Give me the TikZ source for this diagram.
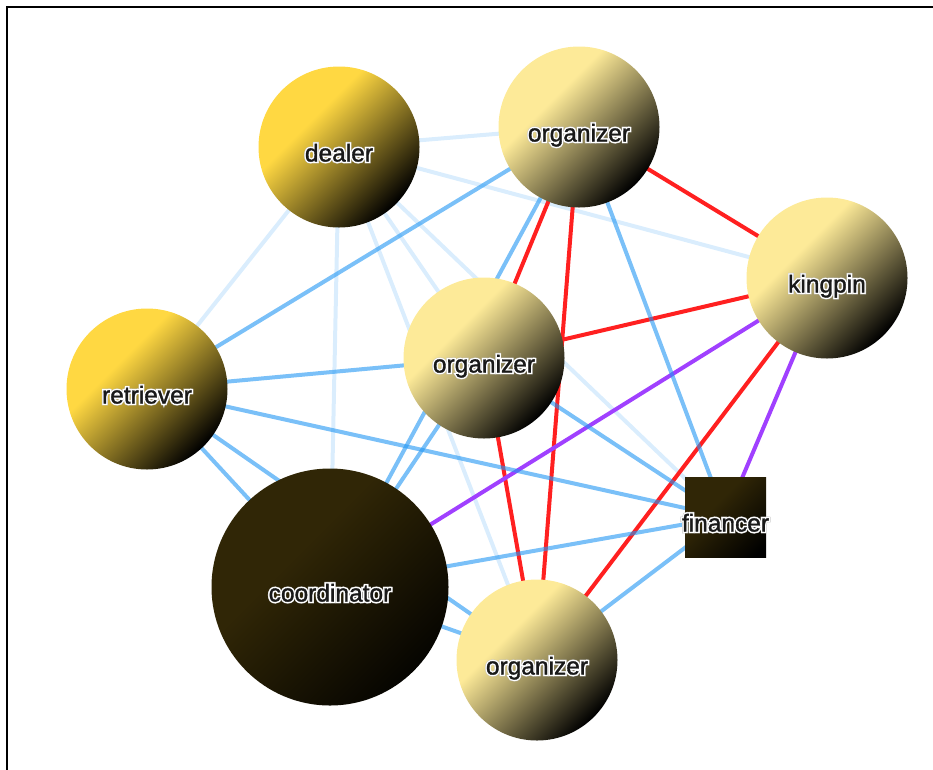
\documentclass[tikz,border=0pt]{standalone}
\usepackage{fontspec}
\setmainfont{Liberation Sans}
\newfontfamily\halowhite[FakeBold=12]{Liberation Sans}
\newfontfamily\halogray[FakeBold=15]{Liberation Sans}
\newfontfamily\haloblack[FakeBold=1.4]{Liberation Sans}
\definecolor{goldc}{RGB}{255,216,66}
\definecolor{palec}{RGB}{253,234,152}
\definecolor{darkc}{RGB}{48,38,6}
\definecolor{edgeblue}{RGB}{33,150,243}
\definecolor{edgered}{RGB}{255,32,32}
\definecolor{edgepurple}{RGB}{160,64,255}
\pgfdeclarehorizontalshading{goldshade}{100bp}{color(0bp)=(goldc); color(38bp)=(goldc); color(75bp)=(black); color(100bp)=(black)}
\pgfdeclarehorizontalshading{paleshade}{100bp}{color(0bp)=(palec); color(38bp)=(palec); color(75bp)=(black); color(100bp)=(black)}
\pgfdeclarehorizontalshading{darkshade}{100bp}{color(0bp)=(darkc); color(40bp)=(darkc); color(80bp)=(black); color(100bp)=(black)}
\pgfdeclarelayer{edgelayer}
\pgfsetlayers{edgelayer,main}
\newcommand\halo[1]{\makebox[0pt]{\raisebox{-9pt}{%
\rlap{\halogray\textcolor{black!22}{#1}}\rlap{\halowhite\textcolor{white}{#1}}\haloblack\textcolor{black!90}{#1}}}}
\tikzset{
  nodebase/.style={inner sep=0pt, font=\fontsize{24.5}{28}\selectfont, text height=17pt, text depth=6pt, shading angle=-45},
  circ/.style={nodebase, circle, minimum size=161pt},
  goldnode/.style={circ, shading=goldshade},
  palenode/.style={circ, shading=paleshade},
  darkcirc/.style={nodebase, circle, minimum size=237pt, shading=darkshade},
  darksq/.style={nodebase, rectangle, minimum width=81pt, minimum height=80pt, shading=darkshade},
  edge/.style={line width=4pt},
  paleedge/.style={edge, draw=edgeblue, draw opacity=0.17},
  blueedge/.style={edge, draw=edgeblue, draw opacity=0.6},
  rededge/.style={edge, draw=edgered},
  purpleedge/.style={edge, draw=edgepurple},
  frame/.style={line width=2pt, draw=black}
}
\begin{document}
\begin{tikzpicture}[x=1pt, y=-1pt]
\useasboundingbox (0,0) rectangle (933,769);
\coordinate (fa) at (7,772);
\coordinate (fb) at (7,7);
\coordinate (fc) at (936,7);
\draw[frame] (fa) -- (fb) -- (fc);

\node[goldnode] (D) at (339,147) {\halo{dealer}};
\node[palenode] (O1) at (579,127) {\halo{organizer}};
\node[palenode] (K) at (827,278) {\halo{kingpin}};
\node[goldnode] (R) at (147,389) {\halo{retriever}};
\node[palenode] (O2) at (484,358) {\halo{organizer}};
\node[darkcirc] (C) at (330,587) {\halo{coordinator}};
\node[palenode] (O3) at (537,660) {\halo{organizer}};
\node[darksq] (F) at (725.5,517) {\halo{financer}};

\begin{pgfonlayer}{edgelayer}
\foreach \a/\b in {D/O1, D/K, D/R, D/C, D/O2, D/O3, D/F}
  \draw[paleedge] (\a.center) -- (\b.center);
\foreach \a/\b in {O1/K, O1/O2, O1/O3, O2/K, O2/O3, K/O3}
  \draw[rededge] (\a.center) -- (\b.center);
\foreach \a/\b in {K/C, K/F}
  \draw[purpleedge] (\a.center) -- (\b.center);
\foreach \a/\b in {O1/C, O1/F, O1/R, R/O2, R/F, R/C, R/O3, O2/F, O2/C, C/F, O3/F, C/O3}
  \draw[blueedge] (\a.center) -- (\b.center);
\end{pgfonlayer}
\end{tikzpicture}
\end{document}
